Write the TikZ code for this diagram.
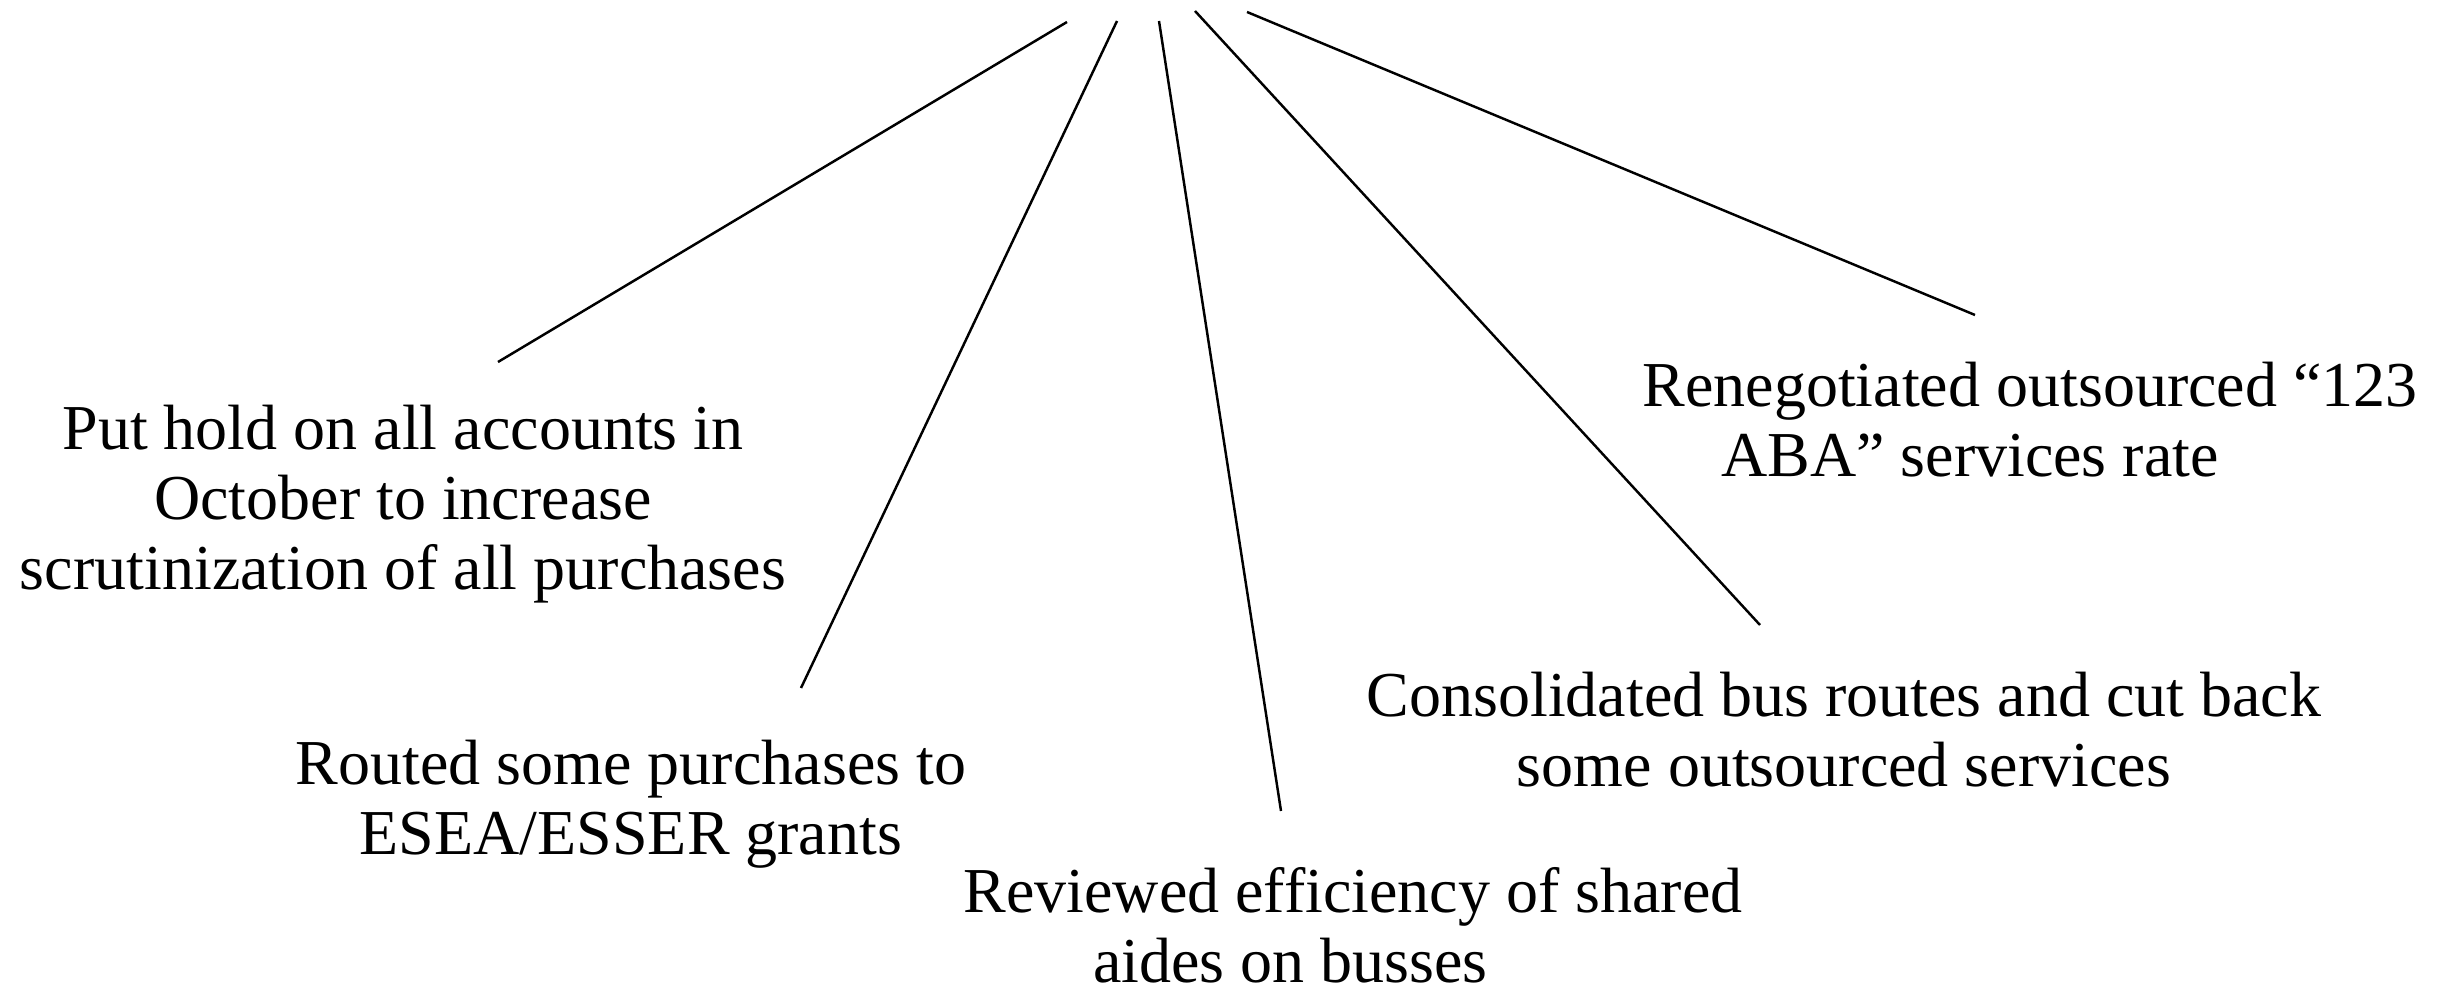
\documentclass[tikz,border=0pt]{standalone}
\usepackage{fontspec}
\setmainfont{Liberation Serif}
\begin{document}
\begin{tikzpicture}[x=0.01cm,y=-0.01cm,
  lbl/.style={align=center,inner sep=0pt,font=\fontsize{18.2pt}{19.9pt}\selectfont},
  spoke/.style={line width=0.7pt,black}]
\useasboundingbox (0,0) rectangle (2445,986);
% text nodes
\node[lbl] (t1) at (403,504) {Put hold on all accounts in\\October to increase\\scrutinization of all purchases};
\node[lbl] (t2) at (631,804) {Routed some purchases to\\ESEA/ESSER grants};
\node[lbl] (t3) at (1353,925) {Reviewed efficiency of shared\\aides on busses\hspace*{1.25cm}};
\node[lbl] (t4) at (1844,730) {Consolidated bus routes and cut back\\some outsourced services};
\node[lbl] (t5) at (2030,420) {Renegotiated outsourced “123\\ABA” services rate\hspace*{1.2cm}};
% spoke ends
\coordinate (a1) at (1067,22);  \coordinate (b1) at (498,362);
\coordinate (a2) at (1117,21);  \coordinate (b2) at (801,688);
\coordinate (a3) at (1159,21);  \coordinate (b3) at (1281,811);
\coordinate (a4) at (1195,11);  \coordinate (b4) at (1760,625);
\coordinate (a5) at (1247,12);  \coordinate (b5) at (1975,315);
\draw[spoke] (a1) -- (b1);
\draw[spoke] (a2) -- (b2);
\draw[spoke] (a3) -- (b3);
\draw[spoke] (a4) -- (b4);
\draw[spoke] (a5) -- (b5);
\end{tikzpicture}
\end{document}
